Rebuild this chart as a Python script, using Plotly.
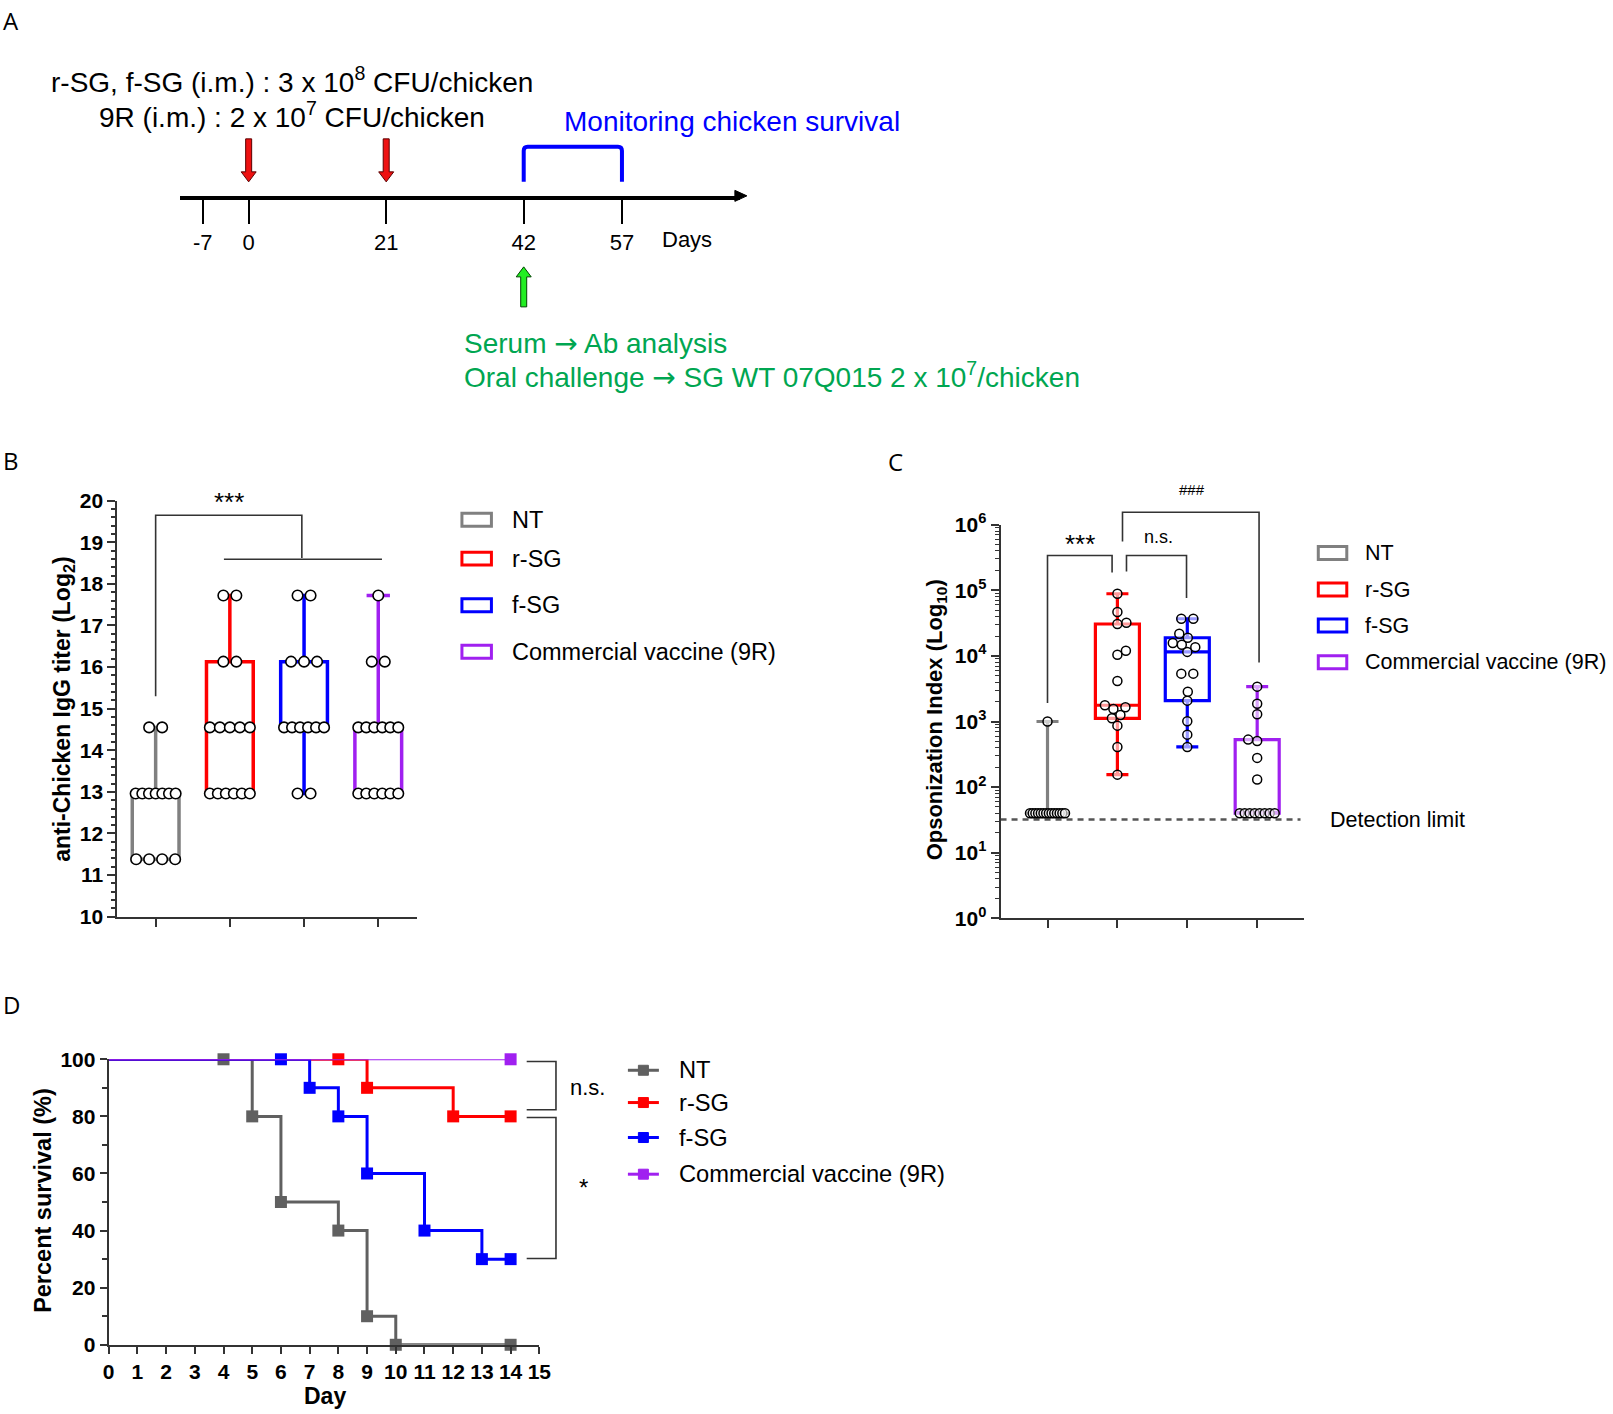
import numpy as np
import plotly.graph_objects as go

W, H = 1613, 1414
FONT = "Liberation Sans"
AX = "#333333"

# ---------------- data ----------------
groups = ["NT", "r-SG", "f-SG", "Commercial vaccine (9R)"]
box_colors = ["#808080", "#ff0000", "#0000ff", "#a020f0"]
surv_colors = ["#606060", "#ff0000", "#0000ff", "#a020f0"]

# Panel A: schedule (days)
timeline_days = [-7, 0, 21, 42, 57]
timeline_labels = ["-7", "0", "21", "42", "57"]
vaccination_days = [0, 21]
challenge_day = 42
monitor_days = [42, 57]

# Panel B: anti-chicken IgG titer (log2)
igg_nt = [11.38, 11.38, 11.38, 11.38, 12.96, 12.96, 12.96, 12.96, 12.96, 12.96, 12.96, 14.55, 14.55]
igg_rsg = [12.96, 12.96, 12.96, 12.96, 12.96, 12.96, 14.55, 14.55, 14.55, 14.55, 14.55,
           16.13, 16.13, 17.72, 17.72]
igg_fsg = [12.96, 12.96, 14.55, 14.55, 14.55, 14.55, 14.55, 14.55, 16.13, 16.13, 16.13,
           17.72, 17.72]
igg_9r = [12.96, 12.96, 12.96, 12.96, 12.96, 12.96, 14.55, 14.55, 14.55, 14.55, 14.55, 14.55,
          16.13, 16.13, 17.72]

# Panel C: opsonization index
opso_nt = [40, 40, 40, 40, 40, 40, 40, 40, 40, 40, 40, 40, 40, 40, 1000]
opso_rsg = [155, 410, 865, 1120, 1260, 1550, 1650, 1770, 4150, 10400, 12000, 30600, 32000,
            46600, 88500]
opso_fsg = [410, 631, 1010, 2080, 2850, 5360, 5360, 11500, 13600, 14800, 15700, 18900,
            21800, 36800, 36800]
opso_9r = [40, 40, 40, 40, 40, 40, 40, 40, 131, 279, 506, 530, 1290, 1870, 3400]
detection_limit = 32
opso_tickvals = [1, 10, 100, 1000, 10000, 100000, 1000000]
opso_ticktext = ["10<sup>0</sup>", "10<sup>1</sup>", "10<sup>2</sup>", "10<sup>3</sup>",
                 "10<sup>4</sup>", "10<sup>5</sup>", "10<sup>6</sup>"]

# Panel D: survival
surv_days_nt = [0, 4, 5, 6, 8, 9, 10, 14]
surv_nt = [100, 100, 80, 50, 40, 10, 0, 0]
surv_days_rsg = [0, 8, 9, 12, 14]
surv_rsg = [100, 100, 90, 80, 80]
surv_days_fsg = [0, 6, 7, 8, 9, 11, 13, 14]
surv_fsg = [100, 100, 90, 80, 60, 40, 30, 30]
surv_days_9r = [0, 14]
surv_9r = [100, 100]

# ---------------- layout geometry ----------------
# target pixel positions -> paper fractions (small correction for the page inset seen in the
# rendered picture)
SX, OX = 0.989, 6.0
SY, OY = 0.983, 14.0


def PX(x):
    return ((x - OX) / SX) / W


def PY(y):
    return 1 - ((y - OY) / SY) / H


domB_x = (PX(117.3), PX(416.7)); domB_y = (PY(917.3), PY(501.0))
domC_x = (PX(1000.7), PX(1304.5)); domC_y = (PY(919.0), PY(525.0))
domD_x = (PX(108.7), PX(539.4)); domD_y = (PY(1345.7), PY(1060.0))
rngB_x = (-0.517, 3.517); rngB_y = (10, 20)
rngC_x = (-0.672, 3.674); rngC_y = (0, 6)
rngD_x = (0, 15); rngD_y = (0, 100)
A_left, A_right, A_line = 180.0, 740.0, 196.0
a_scale, a_off = 6.55, 248.7  # px per day, px of day 0 (schematic, not to scale)
rngA_x = ((A_left - a_off) / a_scale, (A_right - a_off) / a_scale)


def lin(v, r, d):
    return d[0] + (v - r[0]) / (r[1] - r[0]) * (d[1] - d[0])


def bx(v): return lin(v, rngB_x, domB_x)
def by(v): return lin(v, rngB_y, domB_y)
def cx(v): return lin(v, rngC_x, domC_x)
def cy(v): return lin(np.log10(v), rngC_y, domC_y)
def dx(v): return lin(v, rngD_x, domD_x)
def dy(v): return lin(v, rngD_y, domD_y)


def swarm(vals, xpx_per, ypx_per, log, diam, sp_max, half_max):
    vals = np.asarray(vals, dtype=float)
    yv = np.log10(vals) if log else vals
    ypix = yv * ypx_per
    n = len(vals)
    offs = np.zeros(n)
    placed = []
    uniq, inv, counts = np.unique(vals, return_inverse=True, return_counts=True)
    for ui, c in enumerate(counts):
        idx = np.where(inv == ui)[0]
        if c >= 2:
            sp = min(sp_max, 2 * half_max / (c - 1))
            o = (np.arange(c) - (c - 1) / 2) * sp
            offs[idx] = o
            placed += [(oo, ypix[idx[0]]) for oo in o]
    singles = [i for i in np.argsort(yv, kind="stable") if counts[inv[i]] == 1]
    for k, i in enumerate(singles):
        sign = 1 if k % 2 == 0 else -1
        chosen = 0.0
        done = False
        for c in np.arange(0, half_max + 0.01, 0.5):
            for s in ([sign, -sign] if c > 0 else [1]):
                cc = s * c
                if all(np.hypot(cc - px, ypix[i] - py) >= diam for px, py in placed):
                    chosen = cc
                    done = True
                    break
            if done:
                break
        offs[i] = chosen
        placed.append((chosen, ypix[i]))
    return offs / xpx_per


def box_stats(v):
    v = np.asarray(v, dtype=float)
    q1, med, q3 = np.percentile(v, [25, 50, 75], method="weibull")
    return q1, med, q3, v.min(), v.max()


fig = go.Figure()

# ---------------- Panel B ----------------
igg_sets = [igg_nt, igg_rsg, igg_fsg, igg_9r]
for i, vals in enumerate(igg_sets):
    q1, med, q3, lo, hi = box_stats(vals)
    fig.add_trace(go.Box(x=[i], q1=[q1], median=[med], q3=[q3], lowerfence=[lo], upperfence=[hi],
                         width=0.63, whiskerwidth=0.5, boxpoints=False,
                         line=dict(color=box_colors[i], width=3.5),
                         fillcolor="rgba(255,255,255,0)", xaxis="x", yaxis="y",
                         name=groups[i], showlegend=False, hoverinfo="skip"))
for i, vals in enumerate(igg_sets):
    off = swarm(vals, 74.2, 41.6, False, 10, 13, 20)
    fig.add_trace(go.Scatter(x=i + off, y=vals, mode="markers", xaxis="x", yaxis="y",
                             marker=dict(symbol="circle", size=10.5, color="white", opacity=1,
                                         line=dict(color="black", width=1.6)),
                             cliponaxis=False, showlegend=False, hoverinfo="skip"))

# ---------------- Panel C ----------------
opso_sets = [opso_nt, opso_rsg, opso_fsg, opso_9r]
for i, vals in enumerate(opso_sets):
    q1, med, q3, lo, hi = box_stats(vals)
    fig.add_trace(go.Box(x=[i], q1=[q1], median=[med], q3=[q3], lowerfence=[lo], upperfence=[hi],
                         width=0.63, whiskerwidth=0.5, boxpoints=False,
                         line=dict(color=box_colors[i], width=3.2),
                         fillcolor="rgba(255,255,255,0)", xaxis="x2", yaxis="y2",
                         name=groups[i], showlegend=False, hoverinfo="skip"))
fig.add_trace(go.Scatter(x=[rngC_x[0], 3.62], y=[detection_limit, detection_limit], mode="lines",
                         xaxis="x2", yaxis="y2", line=dict(color="#555555", width=2.5, dash="6px,5px"),
                         showlegend=False, hoverinfo="skip"))
for i, vals in enumerate(opso_sets):
    off = swarm(vals, 69.9, 65.7, True, 9, 12, 17.5)
    fig.add_trace(go.Scatter(x=i + off, y=vals, mode="markers", xaxis="x2", yaxis="y2",
                             marker=dict(symbol="circle", size=9, color="rgba(255,255,255,0.6)",
                                         opacity=1, line=dict(color="black", width=1.5)),
                             cliponaxis=False, showlegend=False, hoverinfo="skip"))

# ---------------- Panel D ----------------
surv_sets = [(surv_days_nt, surv_nt), (surv_days_rsg, surv_rsg),
             (surv_days_fsg, surv_fsg), (surv_days_9r, surv_9r)]
surv_widths = [3, 3, 3, 2]
for i, (dd, ss) in enumerate(surv_sets):
    sizes = [0] + [12] * (len(dd) - 1)
    fig.add_trace(go.Scatter(x=dd, y=ss, mode="lines+markers", line_shape="hv",
                             xaxis="x3", yaxis="y3",
                             line=dict(color=surv_colors[i], width=surv_widths[i]),
                             marker=dict(symbol="square", size=sizes, color=surv_colors[i],
                                         opacity=1, line=dict(width=0)),
                             cliponaxis=False, showlegend=False, hoverinfo="skip"))

# ---------------- Panel A axis (timeline) ----------------
fig.add_trace(go.Scatter(x=[timeline_days[0]], y=[0.5], mode="markers", xaxis="x4", yaxis="y4",
                         marker=dict(size=1, color="rgba(0,0,0,0)"), showlegend=False,
                         hoverinfo="skip"))

bold_tick = dict(family=FONT, size=21, color="black", weight="bold")
common_ax = dict(showgrid=False, zeroline=False, showline=True, linecolor=AX, linewidth=2,
                 ticks="outside", tickcolor=AX, tickwidth=2)

fig.update_layout(
    width=W, height=H, margin=dict(l=0, r=0, t=0, b=0),
    paper_bgcolor="white", plot_bgcolor="white", showlegend=False, boxmode="overlay",
    font=dict(family=FONT, color="black"),
    xaxis=dict(domain=domB_x, range=rngB_x, anchor="y", tickvals=[0, 1, 2, 3],
               showticklabels=False, ticklen=8, **common_ax),
    yaxis=dict(domain=domB_y, range=rngB_y, anchor="x", tick0=10, dtick=1, ticklen=8,
               tickfont=bold_tick,
               minor=dict(ticks="outside", dtick=0.2, ticklen=4, tickwidth=1.5, tickcolor=AX),
               **common_ax),
    xaxis2=dict(domain=domC_x, range=rngC_x, anchor="y2", tickvals=[0, 1, 2, 3],
                showticklabels=False, ticklen=8, **common_ax),
    yaxis2=dict(domain=domC_y, type="log", range=rngC_y, anchor="x2", tickvals=opso_tickvals,
                ticktext=opso_ticktext, ticklen=8, tickfont=bold_tick,
                minor=dict(ticks="outside", dtick="D1", ticklen=4, tickwidth=1.2, tickcolor=AX),
                **common_ax),
    xaxis3=dict(domain=domD_x, range=rngD_x, anchor="y3", tick0=0, dtick=1, ticklen=7,
                tickfont=bold_tick, **common_ax),
    yaxis3=dict(domain=domD_y, range=rngD_y, anchor="x3", tick0=0, dtick=20, ticklen=7,
                tickfont=bold_tick,
                minor=dict(ticks="outside", dtick=10, ticklen=5, tickwidth=1.5, tickcolor=AX),
                **common_ax),
    xaxis4=dict(domain=(PX(A_left), PX(A_right)), range=rngA_x, anchor="y4",
                tickvals=timeline_days, ticktext=timeline_labels, showgrid=False, zeroline=False,
                showline=True, linecolor="black", linewidth=4, ticks="outside", ticklen=24,
                tickwidth=2, tickcolor="black",
                tickfont=dict(family=FONT, size=22, color="black")),
    yaxis4=dict(domain=(PY(A_line), PY(A_line) + 0.02), range=[0, 1], visible=False,
                anchor="x4"),
)

shapes = []
annos = []


def line_path(pts, color=AX, width=1.6):
    d = "M " + " L ".join(f"{x:.5f},{y:.5f}" for x, y in pts)
    shapes.append(dict(type="path", path=d, xref="paper", yref="paper",
                       line=dict(color=color, width=width)))


def text(x, y, s, size=22, color="black", xanchor="center", family=FONT, angle=0,
         xref="paper", xshift=0):
    annos.append(dict(x=x, y=y, xref=xref, yref="paper", text=s, showarrow=False,
                      xanchor=xanchor, yanchor="middle", textangle=angle, xshift=xshift,
                      font=dict(family=family, size=size, color=color)))


ARROW = '<span style="font-family:DejaVu Sans">\u2192</span>'

# ---- Panel A decorations ----
lineY = PY(A_line)
shapes.append(dict(type="path", xref="paper", yref="paper", xsizemode="pixel", ysizemode="pixel",
                   xanchor=PX(A_right), yanchor=lineY, path="M -5,5.5 L 7,0 L -5,-5.5 Z",
                   fillcolor="black", line=dict(color="black", width=1)))
for d in vaccination_days:
    shapes.append(dict(type="path", xref="x4", yref="paper", xsizemode="pixel", ysizemode="pixel",
                       xanchor=d, yanchor=lineY,
                       path="M -3,57 L 3,57 L 3,24 L 7.5,24 L 0,14 L -7.5,24 L -3,24 Z",
                       fillcolor="#ee1111", line=dict(color="#5a0000", width=1)))
shapes.append(dict(type="path", xref="x4", yref="paper", xsizemode="pixel", ysizemode="pixel",
                   xanchor=challenge_day, yanchor=lineY,
                   path="M -3,-111 L 3,-111 L 3,-81 L 7.5,-81 L 0,-71 L -7.5,-81 L -3,-81 Z",
                   fillcolor="#22ee22", line=dict(color="#004400", width=1)))
m0, m1 = monitor_days
shapes.append(dict(type="path", xref="x4", yref="paper", ysizemode="pixel", yanchor=lineY,
                   path=(f"M {m0},14 L {m0},45 Q {m0},49 {m0 + 0.6},49 L {m1 - 0.6},49 "
                         f"Q {m1},49 {m1},45 L {m1},14"),
                   line=dict(color="#0000ff", width=4)))

text(PX(1), PY(21), "A", size=24, family="Open Sans", xanchor="left")
text(PX(49), PY(80.5), "r-SG, f-SG (i.m.) : 3 x 10<sup>8</sup> CFU/chicken", size=28,
     xanchor="left")
text(PX(96.7), PY(115), "9R (i.m.) : 2 x 10<sup>7</sup> CFU/chicken", size=28, xanchor="left")
text(PX(561.7), PY(122), "Monitoring chicken survival", size=28, color="#0000ff",
     xanchor="left")
text(PX(660), PY(240), "Days", size=22, xanchor="left")
text(PX(461.7), PY(344), f"Serum {ARROW} Ab analysis", size=28, color="#00a651",
     xanchor="left")
text(PX(461.7), PY(376), f"Oral challenge {ARROW} SG WT 07Q015 2 x 10<sup>7</sup>/chicken",
     size=28, color="#00a651", xanchor="left")

# ---- Panel B decorations ----
text(PX(1), PY(460.5), "B", size=24, family="Open Sans", xanchor="left")
text(PX(63.3), PY(710), "<b>anti-Chicken IgG titer (Log<sub>2</sub>)</b>", size=23, angle=-90)
line_path([(bx(0), by(15.30)), (bx(0), by(19.65)), (bx(1.97), by(19.65)), (bx(1.97), by(18.62))])
line_path([(bx(0.92), by(18.59)), (bx(3.05), by(18.59))])
text(bx(0.99), by(20.12) - 6 / H, "***", size=26)
legB_y = [520, 559, 605.7, 652.3]
for i, g in enumerate(groups):
    shapes.append(dict(type="rect", xref="paper", yref="paper", x0=PX(462), x1=PX(491.5),
                       y0=PY(legB_y[i] - 6.5), y1=PY(legB_y[i] + 6.5),
                       line=dict(color=box_colors[i], width=3), fillcolor="white"))
    text(PX(510), PY(legB_y[i]), g, size=23.5, xanchor="left")

# ---- Panel C decorations ----
text(PX(886), PY(461.5), "C", size=24, family="Open Sans", xanchor="left")
text(PX(936), PY(720), "<b>Opsonization Index (Log<sub>10</sub>)</b>", size=22, angle=-90)
line_path([(cx(0), cy(10 ** 3.283)), (cx(0), cy(10 ** 5.53)), (cx(0.924), cy(10 ** 5.53)),
           (cx(0.924), cy(10 ** 5.271))])
line_path([(cx(1.13), cy(10 ** 5.286)), (cx(1.13), cy(10 ** 5.53)), (cx(1.989), cy(10 ** 5.53)),
           (cx(1.989), cy(10 ** 4.881))])
line_path([(cx(1.073), cy(10 ** 5.743)), (cx(1.073), cy(10 ** 6.19)), (cx(3.027), cy(10 ** 6.19)),
           (cx(3.027), cy(10 ** 3.901))])
text(cx(0.462), cy(10 ** 5.80) - 6 / H, "***", size=26)
text(cx(1.594), cy(10 ** 5.81), "n.s.", size=18)
text(cx(2.067), cy(10 ** 6.54), "###", size=15)
text(PX(1328), PY(821), "Detection limit", size=21.5, xanchor="left")
legC_y = [553.3, 590, 626, 662.7]
for i, g in enumerate(groups):
    shapes.append(dict(type="rect", xref="paper", yref="paper", x0=PX(1318.5), x1=PX(1347),
                       y0=PY(legC_y[i] - 6.5), y1=PY(legC_y[i] + 6.5),
                       line=dict(color=box_colors[i], width=3), fillcolor="white"))
    text(PX(1363), PY(legC_y[i]), g, size=21.5, xanchor="left")

# ---- Panel D decorations ----
text(PX(1), PY(1005), "D", size=24, family="Open Sans", xanchor="left")
text(PX(42.7), PY(1201), "<b>Percent survival (%)</b>", size=23.5, angle=-90)
text(PX(325), PY(1397), "<b>Day</b>", size=23)
line_path([(dx(14.56), dy(99.2)), (dx(15.58), dy(99.2)), (dx(15.58), dy(82.3)),
           (dx(14.56), dy(82.3))])
line_path([(dx(14.56), dy(79.6)), (dx(15.58), dy(79.6)), (dx(15.58), dy(30.2)),
           (dx(14.56), dy(30.2))])
text(PX(567.7), PY(1088.3), "n.s.", size=22, xanchor="left")
text(PX(583.3), PY(1188), "*", size=24)
legD_y = [1071, 1103.3, 1138.3, 1175]
for i, g in enumerate(groups):
    shapes.append(dict(type="line", xref="paper", yref="paper", x0=PX(628), x1=PX(659),
                       y0=PY(legD_y[i]), y1=PY(legD_y[i]),
                       line=dict(color=surv_colors[i], width=3)))
    shapes.append(dict(type="rect", xref="paper", yref="paper", x0=PX(638.5), x1=PX(648.5),
                       y0=PY(legD_y[i] - 5), y1=PY(legD_y[i] + 5),
                       line=dict(color=surv_colors[i], width=1), fillcolor=surv_colors[i]))
    text(PX(676.7), PY(legD_y[i]), g, size=23.7, xanchor="left")

fig.update_layout(shapes=shapes, annotations=annos)
fig.write_html("out.html", config={"displayModeBar": False},
               post_script="document.body.style.margin='0px';document.body.style.padding='0px';")
